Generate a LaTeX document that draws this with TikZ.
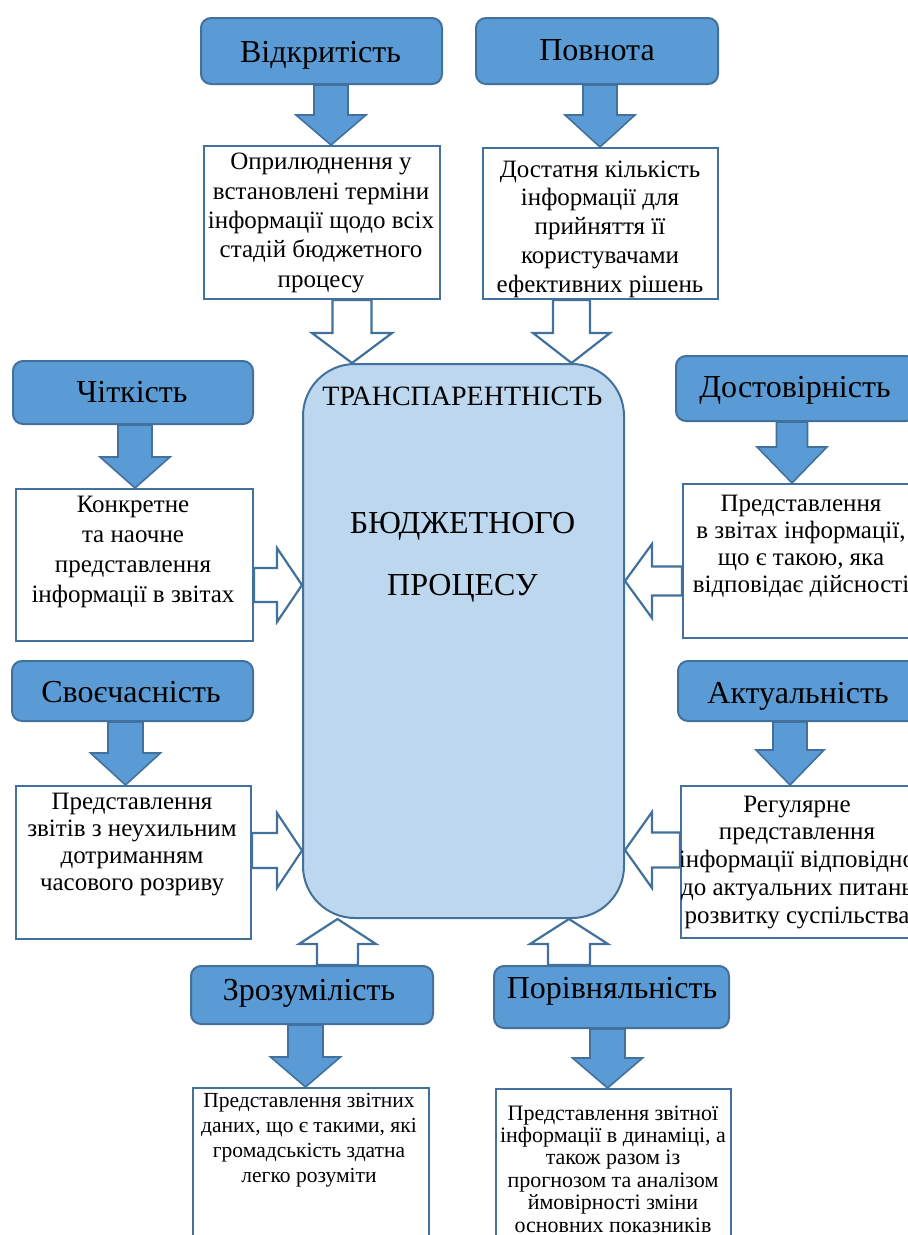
\documentclass[tikz,border=0pt]{standalone}
\usepackage{fontspec}
\setmainfont{Liberation Serif}
\usetikzlibrary{calc}
\definecolor{hdrfill}{HTML}{5B9BD5}
\definecolor{bord}{HTML}{41719C}
\definecolor{cfill}{HTML}{BDD7EE}
\newcommand\fs[2]{\fontsize{#1}{#2}\selectfont}
% vertical block arrow: style, start point, end point (only y used), shaft half width, head half width, head length
\newcommand\varrow[6]{%
 \draw[#1] let \p1=#2, \p2=#3, \n1={ifthenelse(\y1>\y2,1,-1)} in
 (\x1-#4,\y1) -- (\x1-#4,\y2+\n1*#6) -- (\x1-#5,\y2+\n1*#6) -- (\x1,\y2) --
 (\x1+#5,\y2+\n1*#6) -- (\x1+#4,\y2+\n1*#6) -- (\x1+#4,\y1) -- cycle;}
% horizontal block arrow: style, start point, end point (only x used), shaft half width, head half width, head length
\newcommand\harrow[6]{%
 \draw[#1] let \p1=#2, \p2=#3, \n1={ifthenelse(\x1>\x2,1,-1)} in
 (\x1,\y1-#4) -- (\x2+\n1*#6,\y1-#4) -- (\x2+\n1*#6,\y1-#5) -- (\x2,\y1) --
 (\x2+\n1*#6,\y1+#5) -- (\x2+\n1*#6,\y1+#4) -- (\x1,\y1+#4) -- cycle;}
\tikzset{
 hdr/.style={draw=bord, fill=hdrfill, line width=2pt, rounded corners=10pt, anchor=north west, inner sep=0pt},
 tbox/.style={draw=bord, fill=white, line width=2pt, anchor=north west, inner sep=0pt},
 cbox/.style={draw=bord, fill=cfill, line width=2pt, rounded corners=52pt, anchor=north west, inner sep=0pt},
 sol/.style={draw=bord, fill=hdrfill, line width=1.6pt, line join=miter},
 hol/.style={draw=bord, fill=white, line width=2.2pt, line join=miter},
 htxt/.style={anchor=base, inner sep=0pt, font=\fs{32}{36}},
 btxt/.style={anchor=base, inner sep=0pt, align=center},
}
\begin{document}
\begin{tikzpicture}[x=1pt,y=-1pt]
\useasboundingbox (0,0) rectangle (908,1235);
\clip (0,0) rectangle (908,1235);
\fill[white] (0,0) rectangle (908,1235);

% central box
\node[cbox, minimum width=321pt, minimum height=554pt] (c) at (302,363) {};
\node[anchor=base, inner sep=0pt, font=\fs{28}{30}] (c1) at (462.5,405) {ТРАНСПАРЕНТНІСТЬ};
\node[anchor=base, inner sep=0pt, font=\fs{32}{36}] (c2) at (462.5,533) {БЮДЖЕТНОГО};
\node[anchor=base, inner sep=0pt, font=\fs{32}{36}] (c3) at (462.5,595) {ПРОЦЕСУ};

% headers
\node[hdr, minimum width=241pt, minimum height=66pt] (h1) at (200,17) {};
\node[htxt] (h1t) at (320.5,62) {Відкритість};
\node[hdr, minimum width=242pt, minimum height=66pt] (h2) at (475,17) {};
\node[htxt] (h2t) at (597,60) {Повнота};
\node[hdr, minimum width=240pt, minimum height=63pt] (h3) at (12,360) {};
\node[htxt] (h3t) at (132,402) {Чіткість};
\node[hdr, minimum width=241pt, minimum height=60pt] (h4) at (11,660) {};
\node[htxt] (h4t) at (131,702) {Своєчасність};
\node[hdr, minimum width=240pt, minimum height=65pt] (h5) at (675,355) {};
\node[htxt] (h5t) at (795,397) {Достовірність};
\node[hdr, minimum width=240pt, minimum height=60pt] (h6) at (677,660) {};
\node[htxt] (h6t) at (798,703) {Актуальність};
\node[hdr, minimum width=242pt, minimum height=58pt] (h7) at (190,965) {};
\node[htxt] (h7t) at (309,1000) {Зрозумілість};
\node[hdr, minimum width=235pt, minimum height=62pt] (h8) at (493,965) {};
\node[htxt] (h8t) at (612,998) {Порівняльність};

% text boxes (text nodes anchored at the baseline of their last line)
\node[tbox, minimum width=236pt, minimum height=153pt] (b1) at (203,145) {};
\node[btxt, font=\fs{25}{29.3}] (t1) at (321,287) {Оприлюднення у\\встановлені терміни\\інформації щодо всіх\\стадій бюджетного\\процесу};
\node[tbox, minimum width=235pt, minimum height=151pt] (b2) at (482,147) {};
\node[btxt, font=\fs{25}{28.75}] (t2) at (600,292) {Достатня кількість\\інформації для\\прийняття її\\користувачами\\ефективних рішень};
\node[tbox, minimum width=237pt, minimum height=152pt] (b3) at (15,488) {};
\node[btxt, font=\fs{25}{29.7}] (t3) at (133,602) {Конкретне\\та наочне\\представлення\\інформації в звітах};
\node[tbox, minimum width=235pt, minimum height=153pt] (b4) at (15,785) {};
\node[btxt, font=\fs{25}{26.7}] (t4) at (132,890) {Представлення\\звітів з неухильним\\дотриманням\\часового розриву};
\node[tbox, minimum width=238pt, minimum height=154pt] (b5) at (682,483) {};
\node[btxt, font=\fs{25}{26.7}] (t5) at (801,592) {Представлення\\в звітах інформації,\\що є такою, яка\\відповідає дійсності};
\node[tbox, minimum width=240pt, minimum height=152pt] (b6) at (680,785) {};
\node[btxt, font=\fs{25}{27.75}] (t6) at (797,923) {Регулярне\\представлення\\інформації відповідно\\до актуальних питань\\розвитку суспільства};
\node[tbox, minimum width=236pt, minimum height=170pt] (b7) at (192,1087) {};
\node[btxt, font=\fs{21.5}{24.7}] (t7) at (309,1182) {Представлення звітних\\даних, що є такими, які\\громадськість здатна\\легко розуміти};
\node[tbox, minimum width=235pt, minimum height=170pt] (b8) at (495,1088) {};
\node[btxt, font=\fs{22}{22.4}] (t8) at (613,1232) {Представлення звітної\\інформації в динаміці, а\\також разом із\\прогнозом та аналізом\\ймовірності зміни\\основних показників};

% solid arrows header -> text box
\varrow{sol}{($(h1.south west)+(131,0)$)}{(b1.north)}{17}{35}{30}
\varrow{sol}{($(h2.south west)+(125,0)$)}{(b2.north)}{17}{35}{32}
\varrow{sol}{($(h3.south west)+(123,0)$)}{(b3.north)}{17}{35}{31}
\varrow{sol}{($(h4.south west)+(114.5,0)$)}{(b4.north)}{17.5}{35}{32}
\varrow{sol}{($(h5.south west)+(117,0)$)}{(b5.north)}{15.5}{35}{36}
\varrow{sol}{($(h6.south west)+(113,0)$)}{(b6.north)}{17}{34}{35}
\varrow{sol}{($(h7.south west)+(115.5,0)$)}{(b7.north)}{17.5}{35}{30}
\varrow{sol}{($(h8.south west)+(114.5,0)$)}{(b8.north)}{17.5}{35}{30}

% hollow arrows into the central box
\varrow{hol}{($(b1.south west)+(149,0)$)}{(c.north)}{19.5}{40}{30}
\varrow{hol}{($(b2.south west)+(89.5,0)$)}{(c.north)}{18.5}{38.5}{30}
\harrow{hol}{($(b3.north east)+(0,97)$)}{(c.west)}{17}{37}{25}
\harrow{hol}{($(b4.north east)+(0,65.5)$)}{(c.west)}{17.5}{37.5}{25}
\harrow{hol}{($(b5.north west)+(0,98)$)}{(c.east)}{14.5}{37}{27}
\harrow{hol}{($(b6.north west)+(0,65)$)}{(c.east)}{17.5}{38}{27}
\varrow{hol}{($(h7.north west)+(147.5,0)$)}{(c.south)}{20.5}{38.5}{25}
\varrow{hol}{($(h8.north west)+(76,0)$)}{(c.south)}{21}{39}{25}
\end{tikzpicture}
\end{document}
